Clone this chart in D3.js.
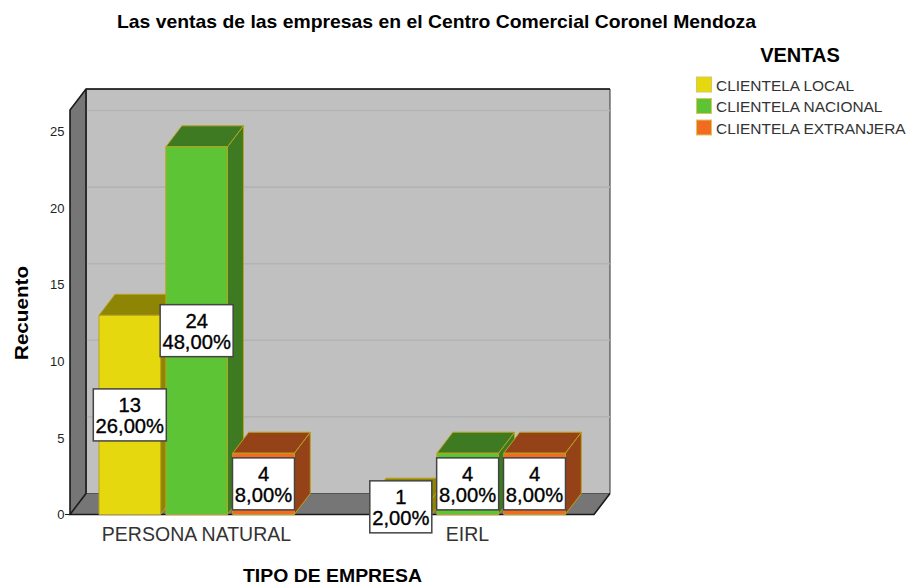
<!DOCTYPE html>
<html><head><meta charset="utf-8">
<script src="https://cdn.jsdelivr.net/npm/d3@7/dist/d3.min.js"></script>
<style>html,body{margin:0;padding:0;background:#fff}svg{display:block}text{font-family:"Liberation Sans",Arial,sans-serif}</style>
</head><body>
<svg id="c" width="907" height="585"></svg>
<script>
const categories = ["PERSONA NATURAL", "EIRL"];
const seriesNames = ["CLIENTELA LOCAL", "CLIENTELA NACIONAL", "CLIENTELA EXTRANJERA"];
const local = [13, 1];
const nacional = [24, 4];
const extranjera = [4, 4];
const localPct = ["26,00%", "2,00%"];
const nacionalPct = ["48,00%", "8,00%"];
const extranjeraPct = ["8,00%", "8,00%"];
const yTicks = [0, 5, 10, 15, 20, 25];
const frontColors = ["#e6d80f", "#5dc535", "#f26b21"];
const topColors = ["#8f8505", "#3d7a22", "#964218"];
const sideColors = ["#8f8505", "#3d7a22", "#964218"];
const edge = "#b9a31c";

const svg = d3.select("#c");
const y = d3.scaleLinear().domain([0, 25]).range([514.5, 131.5]);
const x0 = d3.scaleBand().domain(categories).range([61, 603]);
const groupW = 195.3;
const x1 = d3.scaleBand().domain(seriesNames).range([0, groupW]).paddingInner(0.0785);
const groupOffset = (x0.bandwidth() - groupW) / 2 + 0.15;
const depthX = 16, depthY = -21;
const plotL = 70, plotR = 594, yTop = y(26.4);
const path = p => "M" + p.map(d => d.join(",")).join("L") + "Z";

// walls
svg.append("path").attr("d", path([[plotL + depthX, yTop + depthY], [plotR + depthX, yTop + depthY], [plotR + depthX, y(0) + depthY], [plotL + depthX, y(0) + depthY]]))
  .attr("fill", "#c0c0c0").attr("stroke", "#333").attr("stroke-width", 1);
svg.append("path").attr("d", path([[plotL, yTop], [plotL + depthX, yTop + depthY], [plotL + depthX, y(0) + depthY], [plotL, y(0)]]))
  .attr("fill", "#767676");
svg.append("path").attr("d", path([[plotL, y(0)], [plotL + depthX, y(0) + depthY], [plotR + depthX, y(0) + depthY], [plotR, y(0)]]))
  .attr("fill", "#767676");
svg.selectAll(".grid").data(yTicks.slice(1)).join("line").attr("class", "grid")
  .attr("x1", plotL + depthX).attr("x2", plotR + depthX)
  .attr("y1", d => y(d) + depthY).attr("y2", d => y(d) + depthY)
  .attr("stroke", "#b3b3b3").attr("stroke-width", 1.6);
// outlines
const outline = svg.append("g").attr("fill", "none").attr("stroke", "#1a1a1a").attr("stroke-width", 1.6);
outline.append("path").attr("d", `M${plotL},${y(0)}L${plotL},${yTop}L${plotL + depthX},${yTop + depthY}L${plotR + depthX},${yTop + depthY}`);
outline.append("path").attr("d", `M${plotL + depthX},${yTop + depthY}L${plotL + depthX},${y(0) + depthY}L${plotL},${y(0)}L${plotR},${y(0)}L${plotR + depthX},${y(0) + depthY}`);

// axis
const axis = d3.axisLeft(y).tickValues(yTicks).tickSize(0).tickPadding(0);
const gy = svg.append("g").attr("transform", "translate(64.5,0)").call(axis);
gy.select(".domain").remove();
gy.selectAll("text").attr("font-size", 13).attr("fill", "#222").style("font-family", '"Liberation Sans",Arial,sans-serif');
svg.append("line").attr("x1", 65).attr("x2", plotL).attr("y1", y(0)).attr("y2", y(0)).attr("stroke", "#1a1a1a");

// bars
const seriesValues = [local, nacional, extranjera];
const seriesPct = [localPct, nacionalPct, extranjeraPct];
const bars = [];
categories.forEach((c, i) => seriesNames.forEach((s, j) => bars.push({c, s, j, v: seriesValues[j][i], pct: seriesPct[j][i]})));
const bw = x1.bandwidth();
const barX = d => x0(d.c) + groupOffset + x1(d.s);
const barDepthY = -21;
const g = svg.selectAll(".bar").data(bars).join("g").attr("class", "bar")
  .attr("stroke", edge).attr("stroke-width", 1).attr("stroke-linejoin", "round");
g.append("path").attr("fill", d => sideColors[d.j]).attr("d", d => {
  const l = barX(d) + bw; return path([[l, y(d.v)], [l + depthX, y(d.v) + barDepthY], [l + depthX, y(0) + barDepthY], [l, y(0)]]);
});
g.append("path").attr("fill", d => topColors[d.j]).attr("d", d => {
  const l = barX(d); return path([[l, y(d.v)], [l + depthX, y(d.v) + barDepthY], [l + bw + depthX, y(d.v) + barDepthY], [l + bw, y(d.v)]]);
});
g.append("rect").attr("fill", d => frontColors[d.j]).attr("x", barX).attr("y", d => y(d.v)).attr("width", bw).attr("height", d => y(0) - y(d.v));

// labels
const lab = svg.selectAll(".lab").data(bars).join("g").attr("class", "lab")
  .attr("transform", d => `translate(${barX(d) + bw / 2},${(y(d.v) + y(0)) / 2})`);
const boxW = d => d.pct.length > 5 ? 73 : 62;
lab.append("rect").attr("x", d => -boxW(d) / 2).attr("y", -26).attr("width", boxW).attr("height", 52)
  .attr("fill", "#fff").attr("stroke", "#444").attr("stroke-width", 1.5);
const labText = s => s.append("text").attr("text-anchor", "middle").attr("font-size", 20.2).attr("fill", "#000")
  .attr("stroke", "#000").attr("stroke-width", 0.35);
labText(lab).attr("y", -3).text(d => d.v);
labText(lab).attr("y", 18).text(d => d.pct);

// category labels
svg.selectAll(".cat").data(categories).join("text").attr("class", "cat")
  .attr("x", d => x0(d) + x0.bandwidth() / 2).attr("y", 541).attr("text-anchor", "middle")
  .attr("font-size", 19.5).attr("fill", "#333").text(d => d);

// titles
svg.append("text").attr("x", 436.5).attr("y", 28).attr("text-anchor", "middle").attr("font-size", 18.5).attr("font-weight", "bold").attr("fill", "#000")
  .attr("textLength", 639).attr("lengthAdjust", "spacingAndGlyphs")
  .text("Las ventas de las empresas en el Centro Comercial Coronel Mendoza");
svg.append("text").attr("x", 332.5).attr("y", 582).attr("text-anchor", "middle").attr("font-size", 18.5).attr("font-weight", "bold").attr("fill", "#000")
  .attr("textLength", 179).attr("lengthAdjust", "spacingAndGlyphs").text("TIPO DE EMPRESA");
svg.append("text").attr("transform", "translate(28,313) rotate(-90)").attr("text-anchor", "middle").attr("font-size", 19).attr("font-weight", "bold").attr("fill", "#000")
  .attr("textLength", 94).attr("lengthAdjust", "spacingAndGlyphs").text("Recuento");

// legend
svg.append("text").attr("x", 800).attr("y", 62).attr("text-anchor", "middle").attr("font-size", 20).attr("font-weight", "bold").attr("fill", "#000").text("VENTAS");
const legY = d3.scalePoint().domain(seriesNames).range([84.5, 127.5]);
const leg = svg.selectAll(".leg").data(seriesNames).join("g").attr("class", "leg");
leg.append("rect").attr("x", 696.5).attr("y", d => legY(d) - 7.5).attr("width", 15).attr("height", 15)
  .attr("fill", (d, i) => frontColors[i]).attr("stroke", "#d8c860").attr("stroke-width", 1);
leg.append("text").attr("x", 716).attr("y", d => legY(d) + 6).attr("font-size", 15.45).attr("fill", "#333").text(d => d);
</script>
</body></html>
